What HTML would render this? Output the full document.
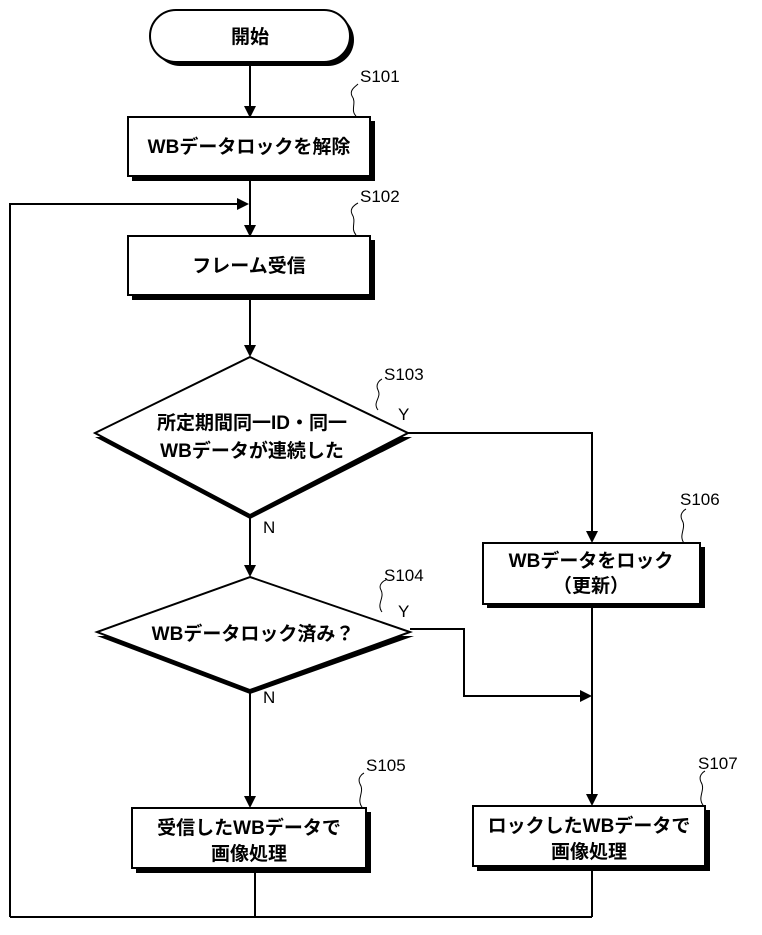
<!DOCTYPE html>
<html><head><meta charset="utf-8"><style>
html,body{margin:0;padding:0;background:#fff;}
svg{display:block;}
text{font-family:"Liberation Sans","Noto Sans CJK JP",sans-serif;fill:#000;}
.t{font-size:19px;font-weight:bold;text-anchor:middle;}
.l{font-size:17px;}
</style></head><body>
<svg width="762" height="935" viewBox="0 0 762 935" xmlns="http://www.w3.org/2000/svg">
<defs>
<marker id="a" markerWidth="10" markerHeight="12" refX="5" refY="12" orient="auto-start-reverse" markerUnits="userSpaceOnUse">
</marker>
</defs>
<g stroke="#000" fill="none" stroke-width="2">
<!-- start terminal -->
<rect x="154" y="14" width="200" height="52" rx="26" fill="#000" stroke="none"/>
<rect x="150" y="10" width="200" height="52" rx="26" fill="#fff"/>
<!-- S101 -->
<rect x="132" y="121" width="243" height="60" fill="#000" stroke="none"/>
<rect x="128" y="117" width="242" height="59" fill="#fff"/>
<!-- S102 -->
<rect x="132" y="240" width="243" height="60" fill="#000" stroke="none"/>
<rect x="128" y="236" width="242" height="59" fill="#fff"/>
<!-- S103 diamond -->
<polygon points="95,437 250,519 412,437" fill="#000" stroke="none"/>
<polygon points="250,357 408,433 250,515 95,433" fill="#fff"/>
<!-- S104 diamond -->
<polygon points="97,636 250,694 414,636" fill="#000" stroke="none"/>
<polygon points="250,577 410,632 250,690 97,632" fill="#fff"/>
<!-- S106 -->
<rect x="487" y="547" width="218" height="61" fill="#000" stroke="none"/>
<rect x="483" y="543" width="217" height="61" fill="#fff"/>
<!-- S105 -->
<rect x="136" y="812" width="235" height="61" fill="#000" stroke="none"/>
<rect x="132" y="808" width="234" height="60" fill="#fff"/>
<!-- S107 -->
<rect x="477" y="810" width="233" height="61" fill="#000" stroke="none"/>
<rect x="473" y="806" width="232" height="60" fill="#fff"/>

<!-- connectors -->
<line x1="250" y1="64" x2="250" y2="110"/>
<line x1="250" y1="178" x2="250" y2="229"/>
<polyline points="10,917 10,204 240,204"/>
<line x1="250" y1="297" x2="250" y2="350"/>
<line x1="250" y1="517" x2="250" y2="570"/>
<polyline points="408,433 592,433 592,536"/>
<line x1="250" y1="692" x2="250" y2="801"/>
<polyline points="410,629 464,629 464,696 584,696"/>
<line x1="592" y1="606" x2="592" y2="799"/>
<line x1="255" y1="870" x2="255" y2="917"/>
<line x1="592" y1="868" x2="592" y2="917"/>
<line x1="10" y1="917" x2="592" y2="917"/>

<!-- squiggles -->
<g stroke-width="1">
<path d="M356,116 C350,110 357,103 352,96 C349,90 356,86 358,84"/>
<path d="M356,235 C350,228 357,222 352,214 C349,208 356,204 358,203"/>
<path d="M378,410 C372,402 382,398 378,390 C375,384 380,380 382,379"/>
<path d="M382,612 C376,604 385,598 381,590 C378,585 383,581 386,580"/>
<path d="M684,543 C678,535 687,528 682,520 C679,514 684,510 686,509"/>
<path d="M362,807 C356,799 365,792 360,784 C357,778 362,774 364,773"/>
<path d="M703,805 C697,797 706,790 701,782 C698,776 703,772 705,771"/>
</g>
</g>
<!-- arrowheads -->
<g fill="#000">
<polygon points="244,106 256,106 250,118"/>
<polygon points="244,225 256,225 250,237"/>
<polygon points="237,198 237,210 249,204"/>
<polygon points="244,345 256,345 250,357"/>
<polygon points="244,565 256,565 250,577"/>
<polygon points="586,531 598,531 592,543"/>
<polygon points="244,796 256,796 250,808"/>
<polygon points="580,690 580,702 592,696"/>
<polygon points="586,794 598,794 592,806"/>
</g>

<text class="t" x="250" y="43">開始</text>
<text class="t" x="249" y="153">WBデータロックを解除</text>
<text class="t" x="249" y="272">フレーム受信</text>
<text class="t" x="252" y="429">所定期間同一ID・同一</text>
<text class="t" x="252" y="457">WBデータが連続した</text>
<text class="t" x="253" y="640">WBデータロック済み？</text>
<text class="t" x="591" y="567">WBデータをロック</text>
<text class="t" x="591" y="592">（更新）</text>
<text class="t" x="249" y="834">受信したWBデータで</text>
<text class="t" x="249" y="860">画像処理</text>
<text class="t" x="589" y="832">ロックしたWBデータで</text>
<text class="t" x="589" y="858">画像処理</text>

<text class="l" x="360" y="82">S101</text>
<text class="l" x="360" y="202">S102</text>
<text class="l" x="384" y="380">S103</text>
<text class="l" x="384" y="581">S104</text>
<text class="l" x="680" y="505">S106</text>
<text class="l" x="366" y="771">S105</text>
<text class="l" x="698" y="769">S107</text>
<text class="l" x="398" y="420">Y</text>
<text class="l" x="398" y="617">Y</text>
<text class="l" x="263" y="533">N</text>
<text class="l" x="263" y="703">N</text>
</svg>
</body></html>
